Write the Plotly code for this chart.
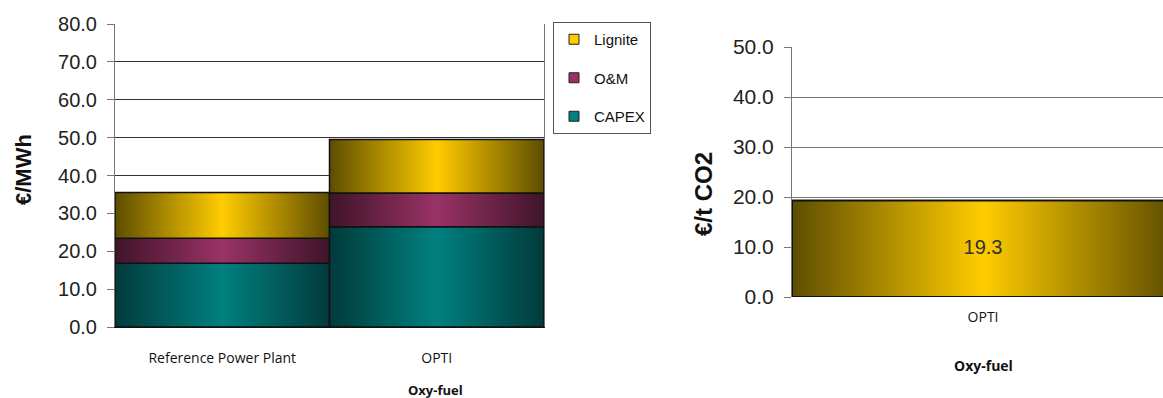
import plotly.graph_objects as go

# ---- data ----
left_categories = ["Reference Power Plant", "OPTI"]
capex = [16.8, 26.5]
om = [6.6, 8.9]
lignite = [12.1, 14.1]
series_names = ["CAPEX", "O&M", "Lignite"]

right_categories = ["OPTI"]
co2_cost = [19.3]

left_ticks = [0, 10, 20, 30, 40, 50, 60, 70, 80]
right_ticks = [0, 10, 20, 30, 40, 50]

# ---- styles ----
grad = {
    "CAPEX": ("#023a3a", "#008080"),
    "O&M": ("#3f1429", "#993366"),
    "Lignite": ("#5e4d00", "#ffcc00"),
}
solid = {"CAPEX": "#008080", "O&M": "#993366", "Lignite": "#ffcc00"}


def colorscale(dark, bright):
    return [[0, dark], [0.5, bright], [1, dark]]


fig = go.Figure()

series_vals = {"CAPEX": capex, "O&M": om, "Lignite": lignite}
legend_rank = {"Lignite": 1, "O&M": 2, "CAPEX": 3}

for i, cat in enumerate(left_categories):
    base = 0.0
    for name in series_names:
        v = series_vals[name][i]
        x0, x1 = i - 0.5, i + 0.5
        y0, y1 = base, base + v
        dark, bright = grad[name]
        fig.add_trace(go.Scatter(
            x=[x0, x1, x1, x0, x0], y=[y0, y0, y1, y1, y0],
            mode="lines", fill="toself",
            fillgradient=dict(type="horizontal", colorscale=colorscale(dark, bright)),
            line=dict(color="#111111", width=1.5),
            name=name, legendgroup=name, legendrank=legend_rank[name],
            showlegend=False, hoverinfo="skip",
            xaxis="x", yaxis="y",
        ))
        base = y1

# legend entries (no marks drawn)
for name in ["Lignite", "O&M", "CAPEX"]:
    fig.add_trace(go.Scatter(
        x=[None], y=[None], mode="markers",
        marker=dict(symbol="square", size=10, color=solid[name], line=dict(color="#222", width=1)),
        name=name, legendgroup=name, legendrank=legend_rank[name], showlegend=True,
        xaxis="x", yaxis="y",
    ))

# right chart
for i, cat in enumerate(right_categories):
    v = co2_cost[i]
    x0, x1 = i - 0.5, i + 0.5
    dark, bright = grad["Lignite"]
    fig.add_trace(go.Scatter(
        x=[x0, x1, x1, x0, x0], y=[0, 0, v, v, 0],
        mode="lines", fill="toself",
        fillgradient=dict(type="horizontal", colorscale=colorscale(dark, bright)),
        line=dict(color="#111111", width=2),
        showlegend=False, hoverinfo="skip",
        xaxis="x2", yaxis="y2",
    ))
    fig.add_trace(go.Scatter(
        x=[i], y=[v / 2], mode="text", text=[f"{v:.1f}"],
        textfont=dict(family="Liberation Sans, Arial", size=20, color="#333333"),
        showlegend=False, hoverinfo="skip", xaxis="x2", yaxis="y2",
    ))

W, H = 1163, 398
tickfont = dict(family="Liberation Sans, Arial", size=20, color="#222222")
tickfont2 = dict(family="Liberation Sans, Arial", size=21, color="#222222")
catfont = dict(family="Open Sans", size=14, color="#111111")
catfont2 = dict(family="Open Sans", size=14, color="#111111")

fig.update_layout(
    width=W, height=H,
    margin=dict(l=0, r=0, t=0, b=0, autoexpand=False),
    paper_bgcolor="white", plot_bgcolor="white",
    showlegend=True,
    legend=dict(
        x=553 / W, y=1 - 22 / H, xanchor="left", yanchor="top",
        bordercolor="#555555", borderwidth=1, bgcolor="white",
        font=dict(family="Liberation Sans, Arial", size=15, color="#111"),
        traceorder="grouped", tracegroupgap=16, itemwidth=30,
    ),
    xaxis=dict(
        domain=[115 / W, 544 / W], range=[-0.5, 1.5], anchor="y",
        tickvals=list(range(len(left_categories))), ticktext=left_categories,
        tickfont=catfont, ticks="", showgrid=False, zeroline=False,
        showline=True, linecolor="#111", linewidth=1,
        ticklabelstandoff=18, automargin=False,
    ),
    yaxis=dict(
        domain=[1 - 327 / H, 1 - 24 / H], range=[0, 80], anchor="x",
        tickvals=left_ticks, tickformat=".1f", tickfont=tickfont,
        showgrid=True, gridcolor="#333333", gridwidth=1,
        ticks="outside", ticklen=7, tickcolor="#777",
        showline=True, linecolor="#777", linewidth=1, mirror=True,
        zeroline=False, automargin=False, ticklabelstandoff=6,
    ),
    xaxis2=dict(
        domain=[792 / W, 1.0], range=[-0.5, 0.471], anchor="y2",
        tickvals=list(range(len(right_categories))), ticktext=right_categories,
        tickfont=catfont2, ticks="", showgrid=False, zeroline=False,
        showline=False, ticklabelstandoff=10, automargin=False,
    ),
    yaxis2=dict(
        domain=[1 - 297 / H, 1 - 47 / H], range=[0, 50], anchor="x2",
        tickvals=right_ticks, tickformat=".1f", tickfont=tickfont2,
        showgrid=True, gridcolor="#777777", gridwidth=1,
        ticks="outside", ticklen=7, tickcolor="#777",
        showline=True, linecolor="#777", linewidth=1,
        zeroline=False, automargin=False, ticklabelstandoff=6,
    ),
    annotations=[
        dict(text="<b>€/MWh</b>", x=24 / W, y=1 - 170 / H, xref="paper", yref="paper",
             xanchor="center", yanchor="middle",
             showarrow=False, textangle=-90,
             font=dict(family="Liberation Sans, Arial", size=22, color="#111")),
        dict(text="<b>€/t CO2</b>", x=703 / W, y=1 - 194 / H, xref="paper", yref="paper",
             xanchor="center", yanchor="middle",
             showarrow=False, textangle=-90,
             font=dict(family="Liberation Sans, Arial", size=24, color="#111")),
        dict(text="<b>Oxy-fuel</b>", x=435 / W, y=1 - 390 / H, xref="paper", yref="paper",
             xanchor="center", yanchor="middle",
             showarrow=False, font=dict(family="Open Sans", size=13, color="#111")),
        dict(text="<b>Oxy-fuel</b>", x=983 / W, y=1 - 365 / H, xref="paper", yref="paper",
             xanchor="center", yanchor="middle",
             showarrow=False, font=dict(family="Open Sans", size=14, color="#111")),
    ],
)

fig.write_html("out.html")
